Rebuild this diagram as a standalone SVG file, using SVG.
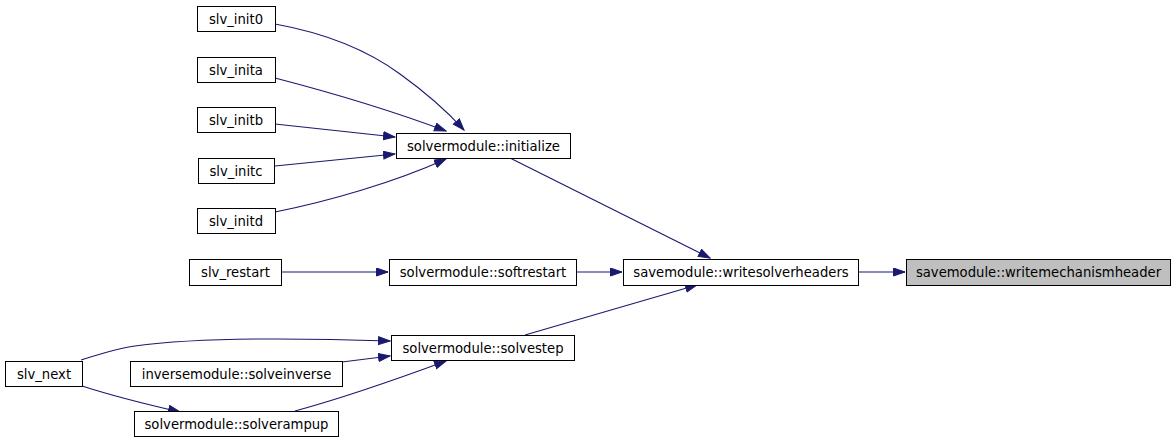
<svg xmlns="http://www.w3.org/2000/svg" width="1176" height="443" viewBox="0 0 1176 443">
<style>
.n rect{fill:#ffffff;stroke:#000000;stroke-width:1}
.root rect{fill:#bfbfbf;stroke:#000000;stroke-width:1}
text{font-family:"DejaVu Sans",sans-serif;font-size:13.2px;text-anchor:middle;fill:#000000}
.e path{fill:none;stroke:#191970;stroke-width:1.1}
</style>
<defs>
<marker id="ah" markerUnits="userSpaceOnUse" markerWidth="13" markerHeight="10" refX="12" refY="4.5" orient="auto">
<path d="M0.5,0.5 L12,4.5 L0.5,8.5 z" fill="#191970" stroke="#191970" stroke-width="1"/>
</marker>
</defs>
<rect width="1176" height="443" fill="#ffffff"/>
<g id="edges" class="e">
<path d="M275,24 C330,34 370,52 400,74 C425,92 446,110 464,130" marker-end="url(#ah)"/>
<path d="M275,78 C325,91 390,110 446,131" marker-end="url(#ah)"/>
<path d="M275,124 L395,137" marker-end="url(#ah)"/>
<path d="M275,166 L395,154" marker-end="url(#ah)"/>
<path d="M275,212 C330,201 395,182 446,159" marker-end="url(#ah)"/>
<path d="M510,158 L710,258" marker-end="url(#ah)"/>
<path d="M281,272 L388,272" marker-end="url(#ah)"/>
<path d="M576,272 L622,272" marker-end="url(#ah)"/>
<path d="M525,335 L697,285" marker-end="url(#ah)"/>
<path d="M858,272 L905,272" marker-end="url(#ah)"/>
<path d="M81,360 C100,354 115,349 135,346 C200,337 300,338 390,341" marker-end="url(#ah)"/>
<path d="M342,362 L390,356" marker-end="url(#ah)"/>
<path d="M295,411 C350,396 400,378 446,361" marker-end="url(#ah)"/>
<path d="M82,386 C110,395 145,404 180,412" marker-end="url(#ah)"/>
</g>
<g id="slv_init0" class="n"><rect x="197.5" y="6.5" width="78" height="25"/><text x="236" y="23.5">slv_init0</text></g>
<g id="slv_inita" class="n"><rect x="197.5" y="57.5" width="78" height="25"/><text x="236" y="74.5">slv_inita</text></g>
<g id="slv_initb" class="n"><rect x="197.5" y="107.5" width="78" height="25"/><text x="236" y="124.5">slv_initb</text></g>
<g id="slv_initc" class="n"><rect x="198.5" y="158.5" width="76" height="25"/><text x="236" y="175.5">slv_initc</text></g>
<g id="slv_initd" class="n"><rect x="197.5" y="208.5" width="78" height="25"/><text x="236" y="225.5">slv_initd</text></g>
<g id="initialize" class="n"><rect x="396.5" y="133.5" width="174" height="25"/><text x="483.5" y="150.5">solvermodule::initialize</text></g>
<g id="slv_restart" class="n"><rect x="189.5" y="259.5" width="92" height="26"/><text x="235.5" y="277">slv_restart</text></g>
<g id="softrestart" class="n"><rect x="389.5" y="259.5" width="187" height="26"/><text x="483" y="277">solvermodule::softrestart</text></g>
<g id="writesolverheaders" class="n"><rect x="623.5" y="259.5" width="235" height="26"/><text x="741" y="277">savemodule::writesolverheaders</text></g>
<g id="writemechanismheader" class="root"><rect x="906.5" y="259.5" width="264" height="26"/><text x="1038.5" y="277">savemodule::writemechanismheader</text></g>
<g id="solvestep" class="n"><rect x="391.5" y="335.5" width="183" height="25"/><text x="483" y="352.5">solvermodule::solvestep</text></g>
<g id="slv_next" class="n"><rect x="5.5" y="361.5" width="77" height="25"/><text x="44" y="378.5">slv_next</text></g>
<g id="solveinverse" class="n"><rect x="130.5" y="361.5" width="212" height="25"/><text x="236.5" y="378.5">inversemodule::solveinverse</text></g>
<g id="solverampup" class="n"><rect x="134.5" y="411.5" width="204" height="25"/><text x="236.5" y="428.5">solvermodule::solverampup</text></g>
</svg>
